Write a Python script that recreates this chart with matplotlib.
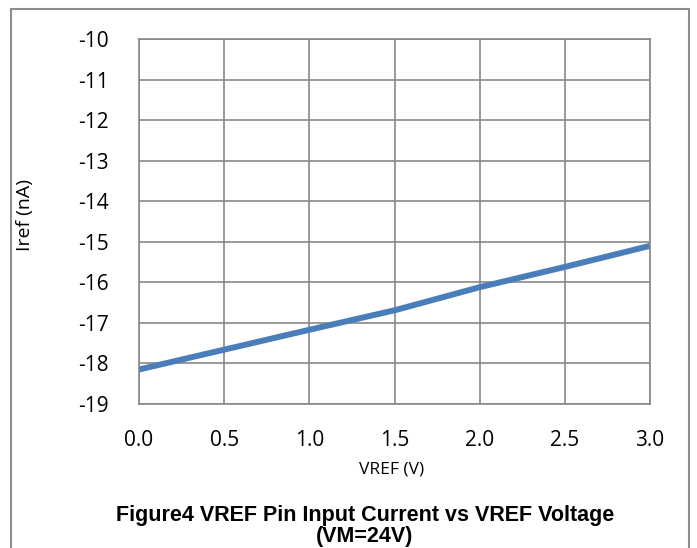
import matplotlib
matplotlib.use("Agg")
import matplotlib.pyplot as plt
from matplotlib.patches import Rectangle

vref = [0.0, 0.5, 1.0, 1.5, 2.0, 2.5, 3.0]
iref = [-18.15, -17.66, -17.17, -16.69, -16.12, -15.62, -15.10]
xticks = [0.0, 0.5, 1.0, 1.5, 2.0, 2.5, 3.0]
xtick_labels = ["0.0", "0.5", "1.0", "1.5", "2.0", "2.5", "3.0"]
yticks = [-19, -18, -17, -16, -15, -14, -13, -12, -11, -10]
ytick_labels = [str(v) for v in yticks]

W, H = 697, 548
fig = plt.figure(figsize=(W/100, H/100), dpi=100)
ax = fig.add_axes([139/W, 1-404/H, (650-139)/W, (404-39)/H])

grid_c = "#898989"
ax.plot(vref, iref, color="#4a7ebb", lw=4.3, solid_capstyle="butt")
ax.set_xlim(0, 3)
ax.set_ylim(-19, -10)
ax.set_xticks(xticks)
ax.set_xticklabels(xtick_labels)
ax.set_yticks(yticks)
ax.set_yticklabels(ytick_labels)
ax.grid(True, color=grid_c, lw=1.2)
for s in ax.spines.values():
    s.set_color(grid_c)
    s.set_linewidth(1.2)
ax.tick_params(length=0, labelsize=15, labelcolor="black")
for lab in ax.get_xticklabels() + ax.get_yticklabels():
    lab.set_family("Open Sans")
ax.tick_params(axis="y", pad=22)
ax.tick_params(axis="x", pad=18.5)

fig.text(25/W, 1-215/H, "Iref (nA)", rotation=90, ha="center", va="center",
         fontsize=14, family="Open Sans")
fig.text(392/W, 1-470/H, "VREF (V)", ha="center", va="center",
         fontsize=12.5, family="Open Sans")
fig.text(365/W, 1-526/H, "Figure4 VREF Pin Input Current vs VREF Voltage\n(VM=24V)",
         ha="center", va="center", fontsize=15.5, fontweight="bold",
         family="Liberation Sans", linespacing=0.95)

fig.patches.append(Rectangle((11/W, -0.05), (689-11)/W, 1.05-9/H,
                             transform=fig.transFigure, fill=False,
                             edgecolor="#8c8c8c", lw=1.5, clip_on=False))

fig.savefig("out.png", dpi=100)
